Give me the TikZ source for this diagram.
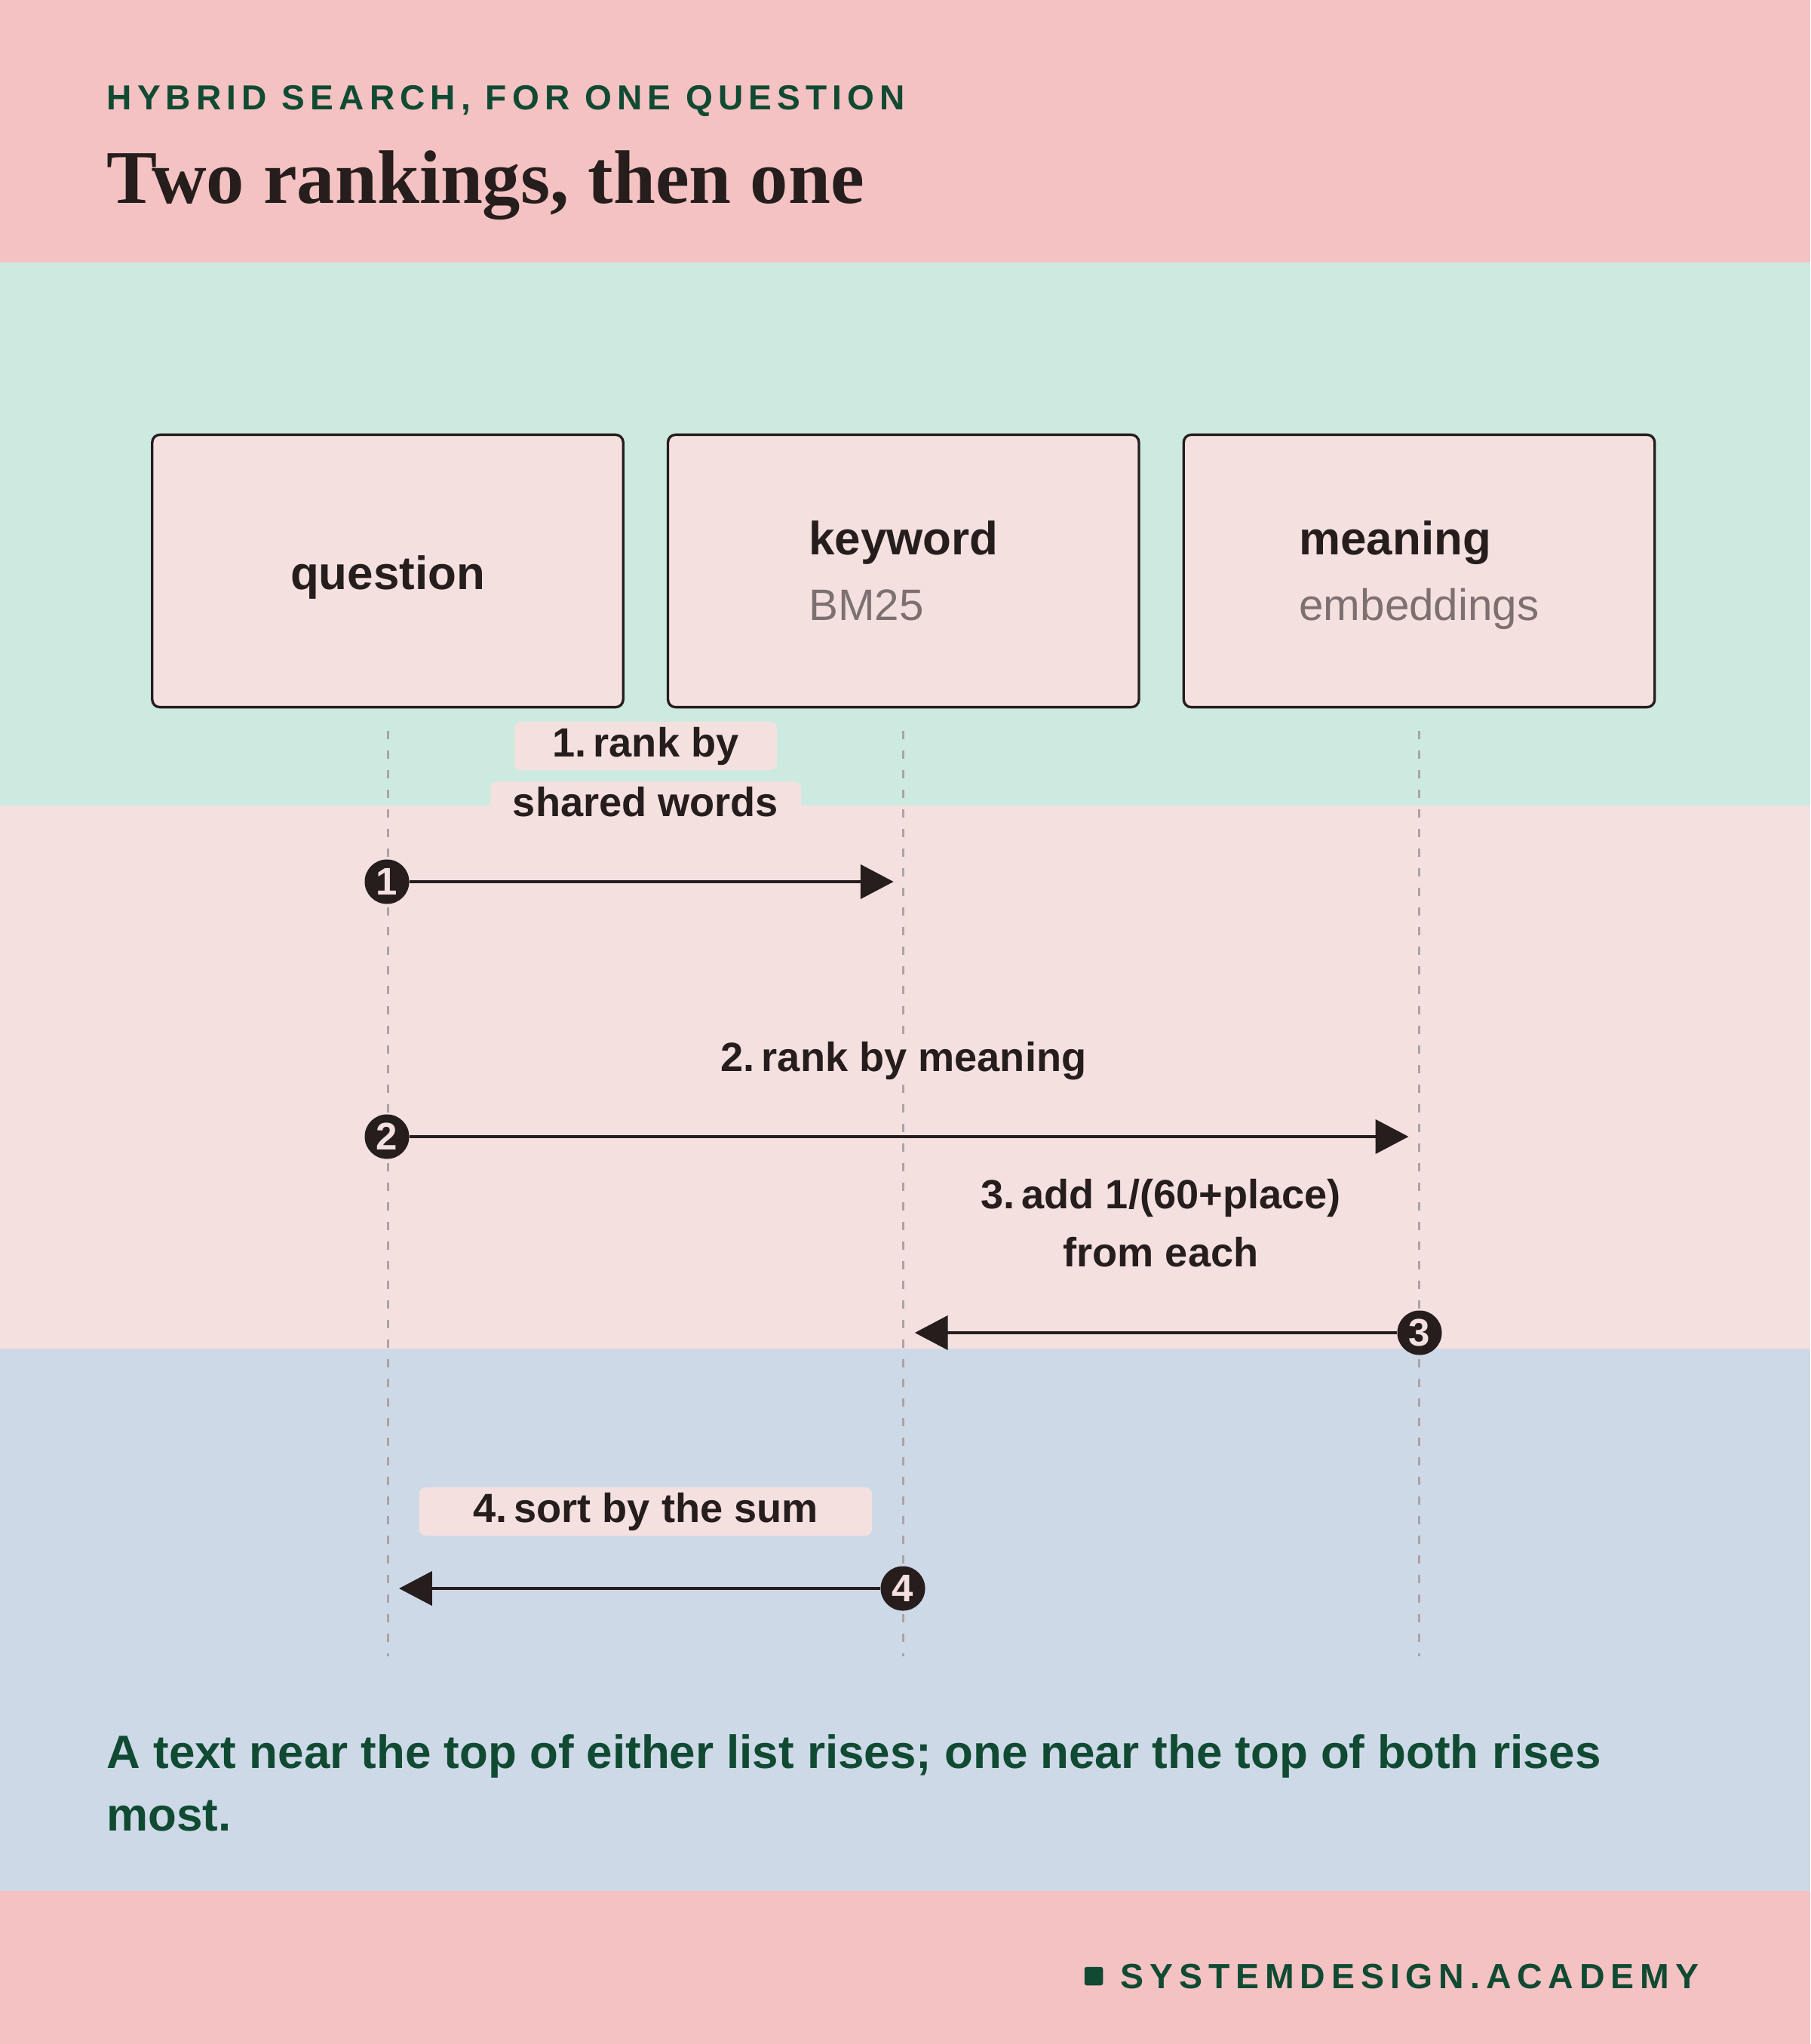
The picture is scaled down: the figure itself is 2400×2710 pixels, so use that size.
\documentclass[tikz,border=0pt]{standalone}
\usepackage{fontspec}
\setmainfont{Liberation Sans}
\newfontfamily\trackedfont{Liberation Sans}[LetterSpace=15.5]
\newfontfamily\brandfont{Liberation Sans}[LetterSpace=17]
\newfontfamily\titlefont{Liberation Serif}
\usepackage{tikz}
\usetikzlibrary{arrows.meta,
                positioning}

\definecolor{bandrose}{HTML}{F4C2C2}
\definecolor{bandmint}{HTML}{CDEAE0}
\definecolor{bandblush}{HTML}{F5E0E0}
\definecolor{bandsky}{HTML}{CED9E8}
\definecolor{ink}{HTML}{261D1D}
\definecolor{pine}{HTML}{104A32}
\definecolor{mute}{HTML}{7D7070}
\definecolor{rulegrey}{HTML}{ABA3A6}

\tikzset{
        actor/.style={draw=ink, line width=0.95pt, fill=bandblush,
                      rounded corners=0.1cm, minimum width=6.24cm,
                      minimum height=3.61cm, align=left, text=ink},
        lifeline/.style={rulegrey, line width=0.85pt,
                         dash pattern=on 0.11cm off 0.15cm},
        msgtag/.style={fill=bandblush, rounded corners=0.09cm, text=ink,
                       font={\fontsize{15.4pt}{21.9pt}\selectfont\bfseries},
                       inner xsep=0pt, inner ysep=0pt, text height=0.46cm,
                       text depth=0.18cm, anchor=base},
        stepdot/.style={circle, fill=ink, text=bandblush, minimum size=0.59cm,
                        inner sep=0pt, font={\fontsize{14.5pt}{14.5pt}\selectfont\bfseries}},
        msg/.style={ink, line width=1.3pt, -{Triangle[length=12.5pt, width=12.8pt]}},
 }

\newcommand{\boxtitle}{\fontsize{17.6pt}{24.75pt}\selectfont\bfseries}
\newcommand{\boxsub}[1]{{\fontsize{16.6pt}{24.75pt}\selectfont\mdseries\color{mute}#1}}

\begin{document}
\begin{tikzpicture}[x=0.01cm, y=-0.01cm]
    \useasboundingbox (0,0) rectangle (2400,2710);
    % bands
    \fill[bandrose] (0,0) rectangle (2400,348);
    \fill[bandmint] (0,348) rectangle (2400,1068);
    \fill[bandblush] (0,1068) rectangle (2400,1788);
    \fill[bandsky] (0,1788) rectangle (2400,2507);
    \fill[bandrose] (0,2507) rectangle (2400,2710);

    \node[anchor=base west, inner sep=0, text=pine,
          font={\trackedfont\fontsize{13.1pt}{15pt}\selectfont\bfseries}] (kicker) at (141,146)
          {HYBRID SEARCH, FOR ONE QUESTION};
    \node[anchor=base west, inner sep=0, text=ink,
          font={\titlefont\fontsize{28.6pt}{33pt}\selectfont\bfseries}] (headline) at (141,270)
          {Two rankings, then one};

    \node[actor, font=\boxtitle, text height=0.62cm, text depth=0.13cm] (question) at (514,757) {question};
    \node[actor, font=\boxtitle, right=0.56cm of question] (keyword) {keyword\\\boxsub{BM25}};
    \node[actor, font=\boxtitle, text depth=0pt, right=0.56cm of keyword] (meaning) {meaning\\\boxsub{embeddings}};

    \draw[lifeline] ([yshift=-0.3cm]question.south) -- ([yshift=-12.56cm]question.south);
    \draw[lifeline] ([yshift=-0.3cm]keyword.south) -- ([yshift=-12.56cm]keyword.south);
    \draw[lifeline] ([yshift=-0.3cm]meaning.south) -- ([yshift=-12.56cm]meaning.south);

    \node[msgtag, minimum width=3.48cm] (tag1a) at (856,1003) {1.\,rank by};
    \node[msgtag, minimum width=4.12cm, below=0.14cm of tag1a] (tag1b) {shared words};
    \node[msgtag] (tag2) at (1198,1420) {2.\,rank by meaning};
    \node[msgtag] (tag3a) at (1539,1602) {3.\,add 1/(60+place)};
    \node[msgtag, below=0.12cm of tag3a] (tag3b) {from each};
    \node[msgtag, minimum width=6cm] (tag4) at (856,2018) {4.\,sort by the sum};

    \node[stepdot] (s1) at (513,1169) {1};
    \node[stepdot] (s2) at (513,1507) {2};
    \node[stepdot] (s3) at (1882,1767) {3};
    \node[stepdot] (s4) at (1197,2106) {4};

    \path (keyword.south |- s1) ++(-13,0) coordinate (e1);
    \path (meaning.south |- s2) ++(-14,0) coordinate (e2);
    \path (keyword.south |- s3) ++(15,0) coordinate (e3);
    \path (question.south |- s4) ++(15,0) coordinate (e4);

    \draw[msg] (s1) -- (e1);
    \draw[msg] (s2) -- (e2);
    \draw[msg] (s3) -- (e3);
    \draw[msg] (s4) -- (e4);

    \node[anchor=base west, inner sep=0, align=left, text=pine,
          font={\fontsize{17.6pt}{23.6pt}\selectfont\bfseries}] (takeaway) at (141,2427)
          {A text near the top of either list rises; one near the top of both rises\\most.};

    \node[anchor=base west, inner sep=0, text=pine,
          font={\brandfont\fontsize{13.2pt}{15pt}\selectfont\bfseries}] (brand) at (1485,2636)
          {SYSTEMDESIGN.ACADEMY};
    \node[fill=pine, rounded corners=0.03cm, minimum size=0.245cm, inner sep=0,
          left=0.22cm of brand] (brandmark) {};
\end{tikzpicture}
\end{document}
